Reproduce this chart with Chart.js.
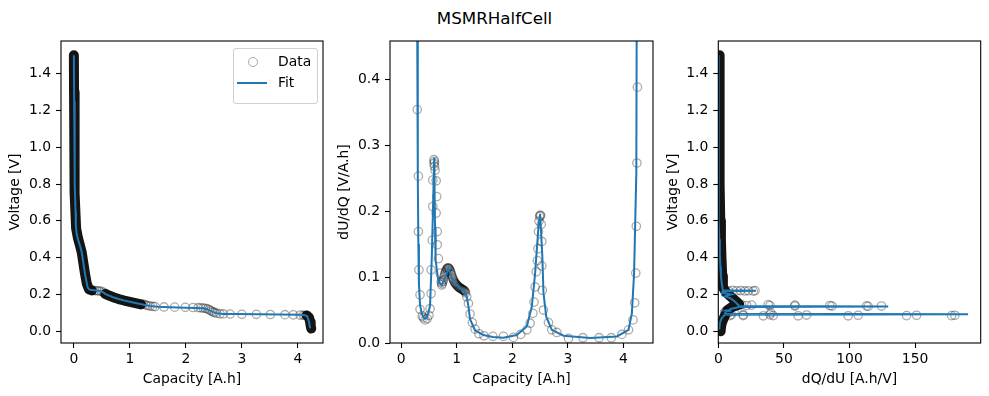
<!DOCTYPE html>
<html>
<head>
<meta charset="utf-8">
<script src="https://cdn.jsdelivr.net/npm/chart.js@4.4.0/dist/chart.umd.min.js"></script>
<style>
  body { margin: 0; background: #fff; font-family: "DejaVu Sans", sans-serif; }
  #wrap { position: relative; width: 989px; height: 396px; overflow: hidden; }
  canvas { position: absolute; top: 0; }
  #title { position: absolute; left: 0; top: 8px; width: 989px; text-align: center; font-size: 16.7px; line-height: 20px; }
  #legend { position: absolute; left: 233px; top: 48px; width: 83px; height: 54px; border: 1px solid #d0d0d0;
            border-radius: 3px; background: rgba(255,255,255,0.8); font-size: 13.9px; line-height: 16px; }
  #legend span { position: absolute; }
</style>
</head>
<body>
<div id="wrap">
  <div id="title">MSMRHalfCell</div>
  <canvas id="c1" width="330" height="396" style="left:0px"></canvas>
  <canvas id="c2" width="330" height="396" style="left:330px"></canvas>
  <canvas id="c3" width="329" height="396" style="left:660px"></canvas>
  <div id="legend">
    <span style="left:14px;top:8px;width:8px;height:8px;border:1.3px solid #a8a8a8;border-radius:50%"></span>
    <span style="left:44px;top:4px">Data</span>
    <span style="left:3px;top:33px;width:30px;height:2px;background:#1f77b4"></span>
    <span style="left:44px;top:25px">Fit</span>
  </div>
</div>
<script>
// ticks
const capTicks = [0, 1, 2, 3, 4];
const voltTicks = [0, 0.2, 0.4, 0.6, 0.8, 1.0, 1.2, 1.4];
const dudqTicks = [0, 0.1, 0.2, 0.3, 0.4];
const dqduTicks = [0, 50, 100, 150];

// panel 1: voltage vs capacity
const fitCap1 = [0, 0.005, 0.01, 0.02, 0.03, 0.036, 0.05, 0.077, 0.11, 0.14, 0.17, 0.2, 0.225, 0.245, 0.27,
  0.29, 0.4, 0.47, 0.52, 0.56, 0.62, 0.7, 0.8, 0.9, 1.0, 1.12, 1.25, 1.36, 1.5, 1.72,
  2.0, 2.31, 2.38, 2.43, 2.49, 2.55, 2.67, 2.9, 3.3, 3.7, 4.04, 4.13, 4.17, 4.2, 4.22];
const fitVolt1 = [1.50, 1.25, 1.0, 0.8, 0.65, 0.57, 0.53, 0.496, 0.465, 0.43, 0.37, 0.31, 0.27, 0.24, 0.228,
  0.225, 0.222, 0.218, 0.212, 0.203, 0.195, 0.185, 0.175, 0.167, 0.16, 0.152, 0.144, 0.137, 0.133, 0.13,
  0.128, 0.125, 0.12, 0.112, 0.104, 0.098, 0.094, 0.093, 0.092, 0.091, 0.089, 0.087, 0.08, 0.05, 0.016];
// where the measured points pile up into a solid band
const bandCap1 = [0, 0.003, 0.007, 0.012, 0.02, 0.03, 0.04, 0.07, 0.11, 0.14, 0.17, 0.2, 0.23, 0.27, 0.32, null,
  0.56, 0.62, 0.7, 0.8, 0.9, 1.0, 1.1, 1.2, null, 4.16, 4.2, 4.22, 4.23, 4.24];
const bandVolt1 = [1.5, 1.3, 1.1, 0.9, 0.75, 0.63, 0.56, 0.51, 0.465, 0.43, 0.37, 0.31, 0.26, 0.228, 0.222, null,
  0.203, 0.195, 0.185, 0.175, 0.167, 0.16, 0.153, 0.146, null, 0.086, 0.075, 0.05, 0.03, 0.015];
const dataCap1 = [0.33, 0.37, 0.41, 0.45, 0.49, 0.53, 1.24, 1.28, 1.32, 1.36, 1.41, 1.45, 1.61, 1.80, 1.99, 2.13, 2.22,
  2.27, 2.31, 2.35, 2.39, 2.42, 2.45, 2.48, 2.51, 2.55, 2.61, 2.67, 2.79, 3.0, 3.26, 3.51, 3.77, 3.92, 4.04, 4.1, 4.13];
const dataVolt1 = [0.222, 0.221, 0.22, 0.219, 0.217, 0.212, 0.147, 0.143, 0.14, 0.137, 0.135, 0.134, 0.132, 0.131, 0.13, 0.129, 0.128,
  0.127, 0.126, 0.124, 0.121, 0.116, 0.111, 0.106, 0.102, 0.098, 0.095, 0.094, 0.093, 0.092, 0.092, 0.091, 0.09, 0.089, 0.088, 0.087, 0.086];

// panel 2: dU/dQ vs capacity
const fitCap2 = [0.28, 0.29, 0.30, 0.31, 0.32, 0.34, 0.37, 0.40, 0.43, 0.47, 0.52, 0.55, 0.58, 0.595, 0.60,
  0.61, 0.62, 0.67, 0.73, 0.79, 0.85, 0.94, 1.06, 1.15, 1.18, 1.21, 1.24, 1.33, 1.48, 1.65,
  1.84, 2.08, 2.26, 2.35, 2.41, 2.47, 2.50, 2.54, 2.56, 2.61, 2.71, 2.92, 3.40, 3.88, 4.09,
  4.15, 4.19, 4.23, 4.25];
const fitDUDQ2 = [0.9, 0.46, 0.25, 0.15, 0.09, 0.058, 0.045, 0.039, 0.037, 0.04, 0.056, 0.126, 0.227, 0.281, 0.24,
  0.176, 0.126, 0.093, 0.088, 0.098, 0.113, 0.093, 0.083, 0.078, 0.07, 0.056, 0.036, 0.019, 0.012, 0.009,
  0.008, 0.012, 0.025, 0.055, 0.106, 0.176, 0.196, 0.131, 0.076, 0.040, 0.020, 0.011, 0.0076, 0.010, 0.020,
  0.045, 0.106, 0.258, 0.9];
const dataCap2 = [0.29, 0.31, 0.31, 0.32, 0.34, 0.34, 0.38, 0.40, 0.43, 0.47, 0.50, 0.52, 0.54, 0.54, 0.56,
  0.57, 0.57, 0.59, 0.59, 0.60, 0.60, 0.61, 0.63, 0.64, 0.63, 0.65, 0.65, 0.67, 0.70, 0.72, 0.73,
  0.75, 0.77, 0.79, 0.81, 0.83, 0.85, 0.87, 0.89, 0.91, 0.93, 0.95, 0.97, 0.99, 1.01, 1.03, 1.05, 1.07, 1.09, 1.11, 1.13, 1.15,
  1.18, 1.21, 1.24, 1.28, 1.33, 1.40, 1.49, 1.65, 1.84, 2.02, 2.15, 2.26, 2.32, 2.37, 2.39,
  2.41, 2.43, 2.45, 2.46, 2.47, 2.48, 2.49, 2.50, 2.51, 2.52, 2.53, 2.53, 2.54, 2.56, 2.65,
  2.71, 2.80, 3.01, 3.27, 3.56, 3.78, 3.97, 4.09, 4.17, 4.20, 4.22, 4.23, 4.24, 4.25,
  0.74, 0.76, 0.78, 0.80, 0.82, 0.84, 0.86, 0.88, 0.90, 0.92, 0.94, 0.96, 0.98, 1.00, 1.02, 1.04, 1.06, 1.08, 1.10, 1.12, 1.14, 1.16];
const dataDUDQ2 = [0.354, 0.253, 0.169, 0.111, 0.073, 0.051, 0.041, 0.038, 0.035, 0.037, 0.042, 0.052, 0.075, 0.111, 0.156,
  0.207, 0.247, 0.272, 0.278, 0.275, 0.268, 0.262, 0.246, 0.222, 0.197, 0.169, 0.149, 0.128, 0.106, 0.092, 0.088,
  0.093, 0.1, 0.106, 0.11, 0.113, 0.114, 0.112, 0.108, 0.103, 0.098, 0.094, 0.091, 0.089, 0.087, 0.085, 0.084, 0.083, 0.082, 0.081, 0.08, 0.078,
  0.07, 0.06, 0.044, 0.031, 0.021, 0.014, 0.011, 0.01, 0.01, 0.0085, 0.013, 0.02, 0.03, 0.045, 0.062,
  0.085, 0.108, 0.125, 0.143, 0.169, 0.185, 0.192, 0.194, 0.193, 0.18, 0.154, 0.117, 0.08, 0.05, 0.031,
  0.02, 0.016, 0.007, 0.008, 0.008, 0.008, 0.013, 0.020, 0.035, 0.061, 0.106, 0.177, 0.273, 0.388,
  0.09, 0.096, 0.103, 0.108, 0.112, 0.114, 0.113, 0.11, 0.105, 0.1, 0.096, 0.092, 0.09, 0.088, 0.086, 0.085, 0.083, 0.082, 0.081, 0.08, 0.079, 0.076];

// panel 3: voltage vs dQ/dU
const fitDQDU3 = [0, 0, 0.2, 0.5, 0.8, 1.2, 1.6, 2.0, 2.6, 3.5, 28.7, 3.5, 3, 6, 10, 7, 5, 9, 12, 16,
  129.5, 16, 10, 8, 6, 10, 6, 5, 190.4, 5, 2.5, 1.5, 1, 0.8];
const fitVolt3 = [1.5, 1.0, 0.8, 0.6, 0.5, 0.42, 0.35, 0.3, 0.26, 0.223, 0.22, 0.217, 0.21, 0.205, 0.2, 0.195, 0.19, 0.18, 0.165, 0.137,
  0.1345, 0.132, 0.122, 0.116, 0.113, 0.111, 0.108, 0.095, 0.0925, 0.09, 0.07, 0.05, 0.03, 0.01];
const bandDQDU3 = [1, 1, 1.5, 2, 2.4, 3, 3.5, 6, 10, 14, 16, 10, 7, 6, 5, 3.5, 2.5, 2, 1.8];
const bandVolt3 = [1.5, 0.8, 0.6, 0.5, 0.4, 0.3, 0.24, 0.21, 0.185, 0.16, 0.145, 0.13, 0.115, 0.1, 0.085, 0.06, 0.04, 0.02, 0.0];
const dataDQDU3 = [7.6, 11, 14, 17, 20.3, 23, 26.7, 28,
  17.8, 21.6, 25.4, 38, 39.4, 58.4, 58.4, 85, 86.7, 113, 114.2, 124.4,
  5, 8, 12, 40,
  8.9, 10, 19, 19, 34.3, 39.4, 41.9, 60.9, 67.3, 99, 106.6, 143.5, 151.1, 177.8, 180.3];
const dataVolt3 = [0.22, 0.222, 0.22, 0.221, 0.219, 0.22, 0.218, 0.221,
  0.145, 0.14, 0.142, 0.145, 0.14, 0.142, 0.137, 0.14, 0.137, 0.138, 0.135, 0.137,
  0.105, 0.1, 0.108, 0.1,
  0.085, 0.09, 0.085, 0.09, 0.084, 0.089, 0.085, 0.084, 0.088, 0.084, 0.087, 0.085, 0.087, 0.085, 0.087];

Chart.defaults.font.family = '"DejaVu Sans", sans-serif';
Chart.defaults.font.size = 13.9;
Chart.defaults.color = '#000';

// matplotlib style box around the plot area
const frame = {
  id: 'frame',
  afterDatasetsDraw(chart) {
    const a = chart.chartArea, ctx = chart.ctx;
    ctx.save();
    ctx.strokeStyle = '#000';
    ctx.lineWidth = 1.1;
    ctx.strokeRect(a.left, a.top, a.right - a.left, a.bottom - a.top);
    ctx.restore();
  }
};

const fmt0 = v => String(v);
const fmt1 = v => v.toFixed(1);

function axis(min, max, ticks, title, fmt, isX) {
  return {
    type: 'linear', min, max,
    afterBuildTicks: s => { s.ticks = ticks.map(v => ({ value: v })); },
    afterFit: s => { if (isX) s.height = 53; else s.width = 56; },
    ticks: { color: '#000', padding: isX ? 3 : 5, maxRotation: 0, autoSkip: false, callback: v => fmt(v) },
    grid: { drawOnChartArea: false, drawTicks: true, tickLength: 5, tickColor: '#000', tickWidth: 1.1 },
    border: { display: false },
    title: { display: true, text: title, color: '#000',
      padding: isX ? { top: 0, bottom: 8.2 } : { top: 2.4, bottom: 0 } }
  };
}

const pts = (xs, ys) => xs.map((x, i) => ({ x, y: ys[i] }));
const fitSet = (xs, ys) => ({ data: pts(xs, ys), showLine: true, borderColor: '#1f77b4', borderWidth: 2,
  pointRadius: 0, tension: 0, clip: 0 });
const dataSet = (xs, ys) => ({ data: pts(xs, ys), showLine: false, pointRadius: 4.2, pointBorderWidth: 1.3,
  pointBorderColor: 'rgba(0,0,0,0.33)', pointBackgroundColor: 'rgba(0,0,0,0)' });
const bandSet = (xs, ys) => ({ data: pts(xs, ys), showLine: true, borderColor: 'rgba(0,0,0,0.92)', borderWidth: 10,
  pointRadius: 0, borderCapStyle: 'round', borderJoinStyle: 'round', spanGaps: false, clip: 0 });

function makeChart(id, datasets, x, y, padLeft, padRight) {
  return new Chart(document.getElementById(id), {
    type: 'scatter',
    data: { datasets },
    options: {
      responsive: false, animation: false, devicePixelRatio: 1, events: [],
      layout: { padding: { left: padLeft, right: padRight, top: 41, bottom: 0 } },
      plugins: { legend: { display: false }, tooltip: { enabled: false } },
      scales: { x, y }
    },
    plugins: [frame]
  });
}

// first dataset is drawn on top
makeChart('c1',
  [fitSet(fitCap1, fitVolt1), dataSet(dataCap1, dataVolt1), bandSet(bandCap1, bandVolt1)],
  axis(-0.23, 4.45, capTicks, 'Capacity [A.h]', fmt0, true),
  axis(-0.064, 1.578, voltTicks, 'Voltage [V]', fmt1, false), 5, 7);

makeChart('c2',
  [fitSet(fitCap2, fitDUDQ2), dataSet(dataCap2, dataDUDQ2)],
  axis(-0.2, 4.53, capTicks, 'Capacity [A.h]', fmt0, true),
  axis(0, 0.458, dudqTicks, 'dU/dQ [V/A.h]', fmt1, false), 4, 7);

makeChart('c3',
  [fitSet(fitDQDU3, fitVolt3), dataSet(dataDQDU3, dataVolt3), bandSet(bandDQDU3, bandVolt3)],
  axis(0, 200, dqduTicks, 'dQ/dU [A.h/V]', fmt0, true),
  axis(-0.064, 1.578, voltTicks, 'Voltage [V]', fmt1, false), 2.3, 8.3);
</script>
</body>
</html>
